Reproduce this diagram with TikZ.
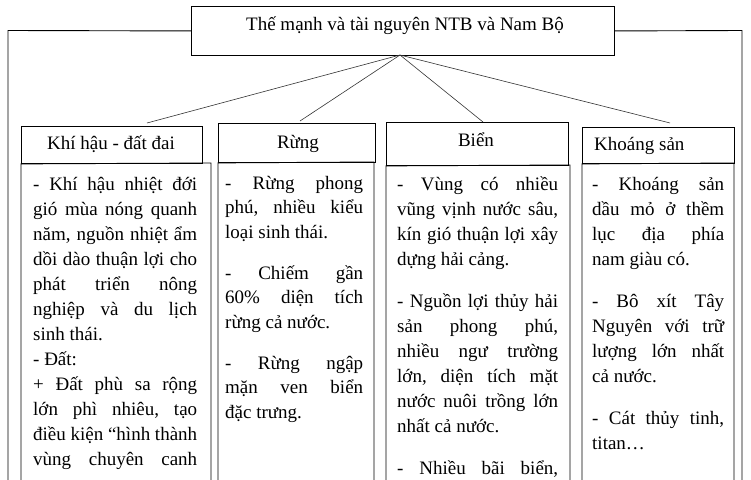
\documentclass[tikz,border=0pt]{standalone}
\usepackage{fontspec}
\setmainfont{Liberation Serif}
\newlength\colw
\newlength\pgp
\newcommand\jl[1]{\hbox to\colw{\spaceskip=.25em plus 1fil minus .08em\relax #1}}
\newcommand\el[1]{\hbox{#1}}
\newcommand\pg{\vskip\pgp}
\newcommand\colbox[4]{\vtop{\colw=#1\relax\pgp=#3\relax\baselineskip=#2\relax\lineskiplimit=-100pt\frenchspacing #4}}
\begin{document}
\begin{tikzpicture}[x=1pt,y=-1pt,
  boxline/.style={draw=black,line width=0.9pt},
  hdr/.style={boxline,rectangle,inner sep=0pt,anchor=north west},
  conn/.style={draw=black!80,line width=0.6pt},
  txt/.style={inner sep=0pt,font=\fontsize{19}{25}\selectfont},
  coltxt/.style={txt,anchor=base west}]
\useasboundingbox (0,0) rectangle (751,479);
% title
\node[hdr,minimum width=423pt,minimum height=49pt] (top) at (191,6) {};
\node[txt,anchor=base] (ttl) at (405,30) {Thế mạnh và tài nguyên NTB và Nam Bộ};
% outer frame
\draw[boxline] (top.west) -- (8,30.5) -- (8,482);
\draw[boxline] (top.east) -- (742,30.5) -- (742,482);
% headers
\node[hdr,minimum width=181pt,minimum height=37pt] (h1) at (21,126) {};
\node[hdr,minimum width=157pt,minimum height=39pt] (h2) at (218,123) {};
\node[hdr,minimum width=182pt,minimum height=43pt] (h3) at (386,122) {};
\node[hdr,minimum width=152pt,minimum height=36pt] (h4) at (582,127) {};
\node[txt,anchor=base] (t1) at (111,149) {Khí hậu - đất đai};
\node[txt,anchor=base] (t2) at (298,148) {Rừng};
\node[txt,anchor=base] (t3) at (476,146) {Biển};
\node[txt,anchor=base west] (t4) at (594,150) {Khoáng sản};
% connectors
\coordinate (hub) at (400,55);
\coordinate (e1) at (147,123);
\coordinate (e2) at (300,121);
\coordinate (e3) at (483,122);
\coordinate (e4) at (670,123);
\draw[conn] (hub) -- (e1);
\draw[conn] (hub) -- (e2);
\draw[conn] (hub) -- (e3);
\draw[conn] (hub) -- (e4);
% content boxes
\draw[boxline] (21,482) -- (h1.south west) -- (211,163) -- (211,482);
\draw[boxline] (218,482) -- (h2.south west) -- (374,162) -- (374,482);
\draw[boxline] (386,482) -- (h3.south west) -- (570,165) -- (570,482);
\draw[boxline] (582,482) -- (h4.south west) -- (734,163) -- (734,482);
% column texts
\node[coltxt] (c1) at (33,190) {\colbox{164pt}{25pt}{17pt}{%
\jl{- Khí hậu nhiệt đới}
\jl{gió mùa nóng quanh}
\jl{năm, nguồn nhiệt ẩm}
\jl{dồi dào thuận lợi cho}
\jl{phát triển nông}
\jl{nghiệp và du lịch}
\el{sinh thái.}
\el{- Đất:}
\jl{+ Đất phù sa rộng}
\jl{lớn phì nhiêu, tạo}
\jl{điều kiện “hình thành}
\jl{vùng chuyên canh}}};
\node[coltxt] (c2) at (225,189) {\colbox{138pt}{24.5pt}{16.5pt}{%
\jl{- Rừng phong}
\jl{phú, nhiều kiểu}
\el{loại sinh thái.}
\pg
\jl{- Chiếm gần}
\jl{60\% diện tích}
\el{rừng cả nước.}
\pg
\jl{- Rừng ngập}
\jl{mặn ven biển}
\el{đặc trưng.}}};
\node[coltxt] (c3) at (397,190) {\colbox{161pt}{25pt}{17pt}{%
\jl{- Vùng có nhiều}
\jl{vũng vịnh nước sâu,}
\jl{kín gió thuận lợi xây}
\el{dựng hải cảng.}
\pg
\jl{- Nguồn lợi thủy hải}
\jl{sản phong phú,}
\jl{nhiều ngư trường}
\jl{lớn, diện tích mặt}
\jl{nước nuôi trồng lớn}
\el{nhất cả nước.}
\pg
\jl{- Nhiều bãi biển,}}};
\node[coltxt] (c4) at (592,190) {\colbox{132pt}{25pt}{17pt}{%
\jl{- Khoáng sản}
\jl{dầu mỏ ở thềm}
\jl{lục địa phía}
\el{nam giàu có.}
\pg
\jl{- Bô xít Tây}
\jl{Nguyên với trữ}
\jl{lượng lớn nhất}
\el{cả nước.}
\pg
\jl{- Cát thủy tinh,}
\el{titan…}}};
\end{tikzpicture}
\end{document}
